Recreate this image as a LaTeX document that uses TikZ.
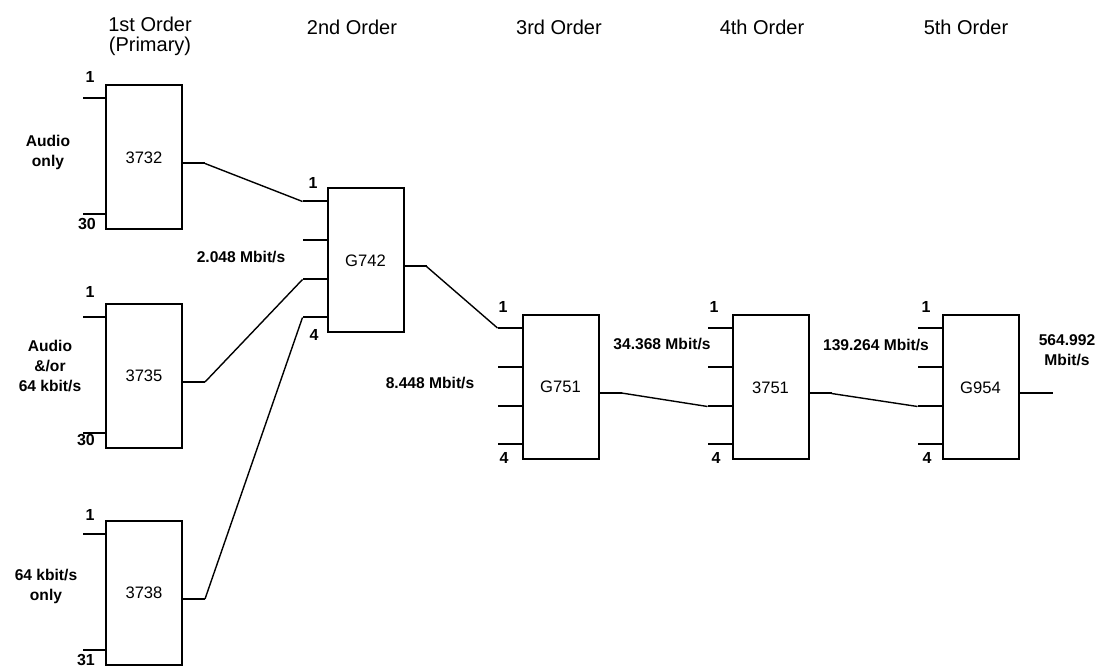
\documentclass[tikz,border=0pt]{standalone}
\usepackage{fontspec}
\setmainfont{Liberation Sans}
\usetikzlibrary{calc}

\begin{document}
\begin{tikzpicture}[x=0.5pt, y=-0.5pt,
    box/.style={rectangle, draw, line width=1pt, minimum width=38pt,
                minimum height=72pt, inner sep=0pt,
                font=\fontsize{8.3}{10}\selectfont},
    hdr/.style={font=\fontsize{10}{10}\selectfont, inner sep=0.5pt},
    lbl/.style={font=\fontsize{7.8}{10}\selectfont\bfseries, align=center},
    pin/.style={font=\fontsize{8}{8}\selectfont\bfseries, inner sep=0pt},
    stub/.style={line width=1pt},
    wire/.style={line width=0.7pt, line join=round}
]
\useasboundingbox (0,0) rectangle (1098,667);

% headings
\node[hdr] (h1) at (150,24) {1st Order};
\node[hdr] (h1b) at (150,46) {(Primary)};
\node[hdr] (h2) at (352,27) {2nd Order};
\node[hdr] (h3) at (559,27) {3rd Order};
\node[hdr] (h4) at (762,27) {4th Order};
\node[hdr] (h5) at (966,27) {5th Order};

% multiplexers
\node[box] (g732) at (144,157.5) {3732};
\node[box] (g735) at (144,376) {3735};
\node[box] (g738) at (144,593) {3738};
\node[box] (g742) at (365.5,260.5) {G742};
\node[box] (g751) at (560.5,387) {G751};
\node[box] (g751b) at (770.5,387.5) {3751};
\node[box] (g954) at (980.5,387.5) {G954};

% tributary stubs
\foreach \b in {g732,g735,g738} {
  \draw[stub] ($(\b.west)+(0,-59)$) -- ++(-22,0);
  \draw[stub] ($(\b.west)+(0,57)$) -- ++(-22,0);
}
\foreach \b in {g742,g751,g751b,g954}
  \foreach \dy [count=\i] in {-59,-20,19,57}
    \draw[stub] ($(\b.west)+(0,\dy)$) -- ++(-24,0) coordinate (\b-\i);

% outputs
\foreach \b in {g732,g735,g738,g742,g751,g751b}
  \draw[stub] ($(\b.east)+(0,6)$) -- ++(22,0) coordinate (\b-o);
\draw[stub] ($(g954.east)+(0,6)$) -- ++(33,0) coordinate (g954-o);

% connections
\draw[wire] (g732-o) -- (g742-1);
\draw[wire] (g735-o) -- (g742-3);
\draw[wire] (g738-o) -- (g742-4);
\draw[wire] (g742-o) -- (g751-1);
\draw[wire] (g751-o) -- (g751b-3);
\draw[wire] (g751b-o) -- (g954-3);

% pin numbers
\node[pin] (n732a) at (90,77) {1};
\node[pin] (n732b) at (87,224) {30};
\node[pin] (n735a) at (90,292) {1};
\node[pin] (n735b) at (86,440) {30};
\node[pin] (n738a) at (90,515) {1};
\node[pin] (n738b) at (86,660) {31};
\node[pin] (n742a) at (313,183) {1};
\node[pin] (n742b) at (314,335) {4};
\node[pin] (n751a) at (503,307) {1};
\node[pin] (n751b) at (504,458) {4};
\node[pin] (n751ba) at (714,307) {1};
\node[pin] (n751bb) at (716,458) {4};
\node[pin] (n954a) at (926,307) {1};
\node[pin] (n954b) at (927,458) {4};

% traffic and rates
\node[lbl] (t732) at (48,152) {Audio\\only};
\node[lbl] (t735) at (50,366) {Audio\\\&/or\\64 kbit/s};
\node[lbl] (t738) at (46,586) {64 kbit/s\\only};
\node[lbl] (r2) at (241,257) {2.048 Mbit/s};
\node[lbl] (r8) at (430,383) {8.448 Mbit/s};
\node[lbl] (r34) at (662,344) {34.368 Mbit/s};
\node[lbl] (r139) at (876,345) {139.264 Mbit/s};
\node[lbl] (r565) at (1067,350) {564.992\\Mbit/s};
\end{tikzpicture}
\end{document}
